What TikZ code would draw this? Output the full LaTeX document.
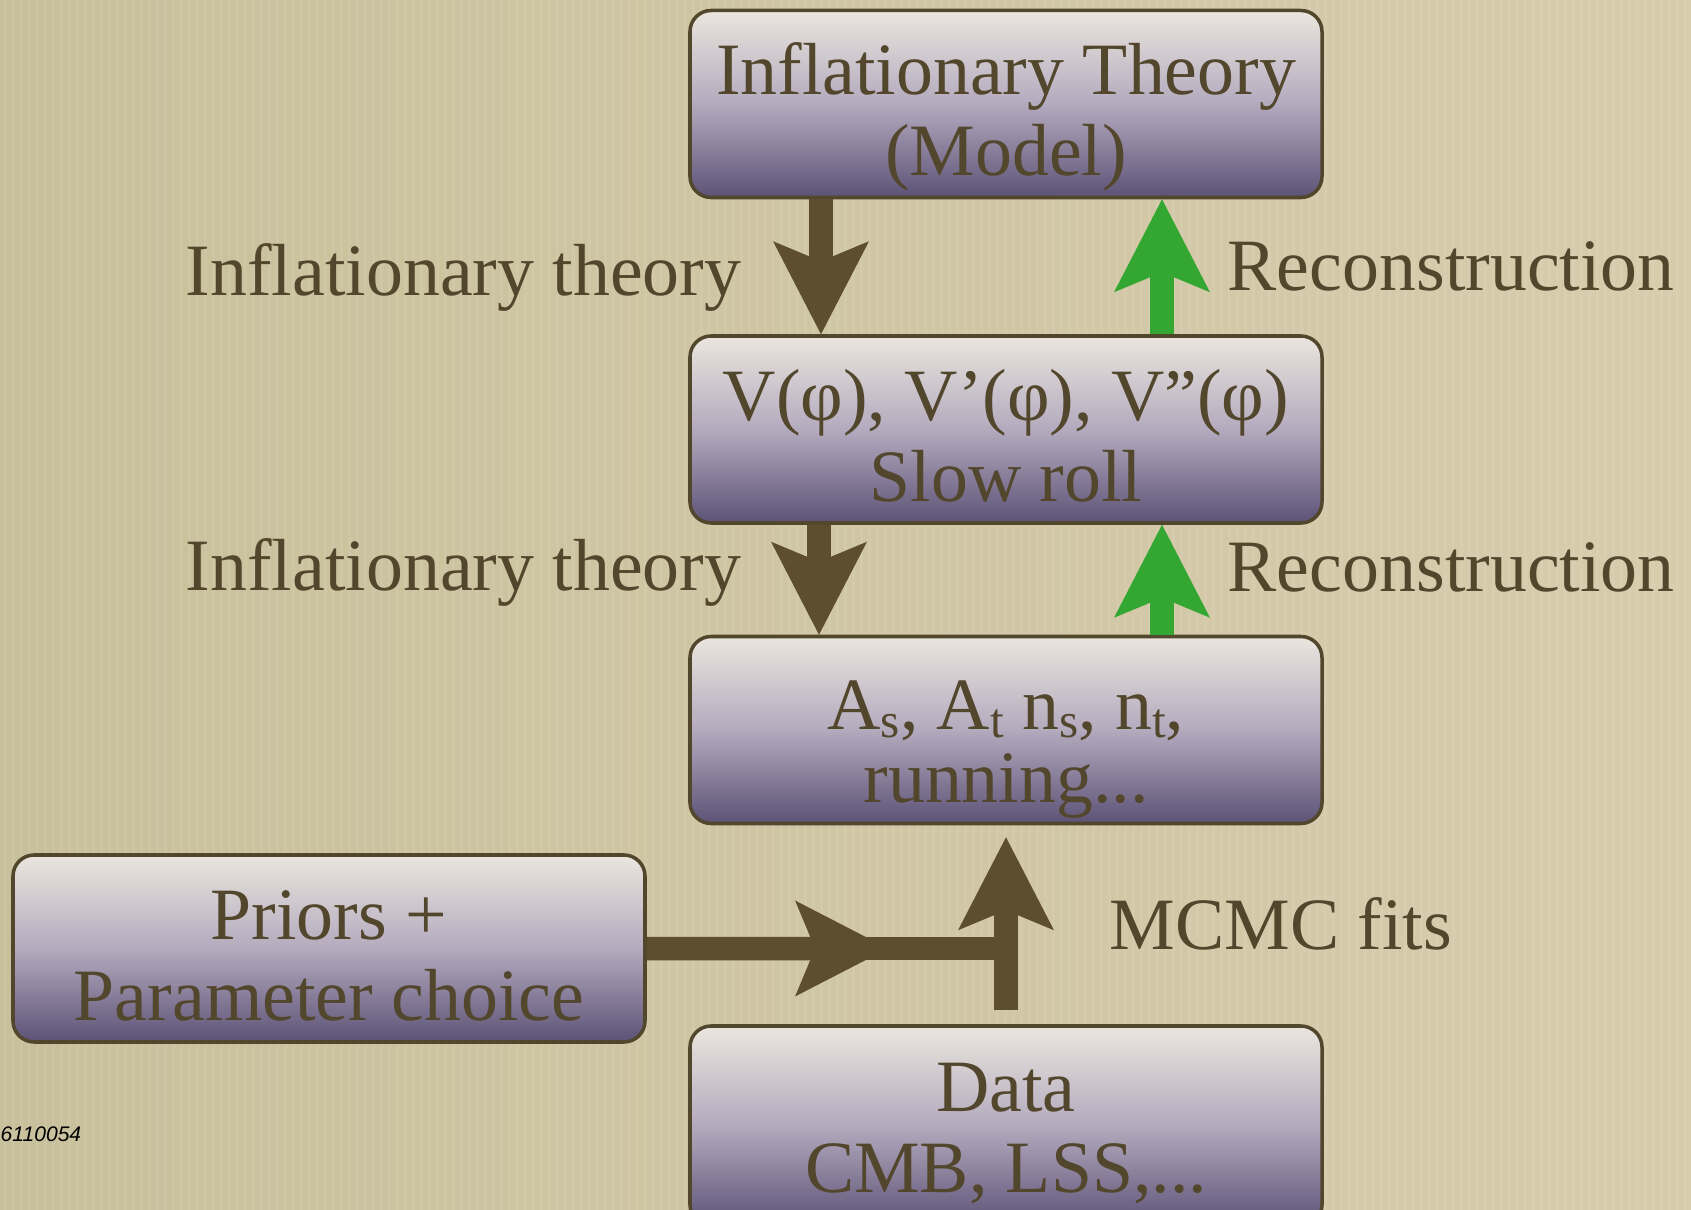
\documentclass[tikz,border=0pt]{standalone}
\usepackage{fontspec}
\setmainfont{Liberation Serif}
\setsansfont{Liberation Sans}
\usepackage{tikz}
\usetikzlibrary{arrows.meta, calc}
\definecolor{inkBrown}{RGB}{82,70,44}
\definecolor{arrowBrown}{RGB}{92,78,46}
\definecolor{reconGreen}{RGB}{52,166,50}
\definecolor{boxTop}{RGB}{234,230,222}
\definecolor{boxMid}{RGB}{180,170,190}
\definecolor{boxBottom}{RGB}{92,82,118}
\definecolor{paperLeft}{RGB}{200,192,155}
\definecolor{paperRight}{RGB}{215,204,172}
\newcommand{\boxstrut}[1][18pt]{\rule{0pt}{#1}}
\newcommand{\lowidx}[1]{\raisebox{-0.12em}{\fontsize{14}{14}\selectfont #1}}

\begin{document}
\begin{tikzpicture}[
    stagebox/.style={draw=inkBrown, line width=1pt, top color=boxTop, bottom color=boxBottom, middle color=boxMid, rounded corners=6pt, minimum width=6.32cm, minimum height=1.87cm, inner ysep=0pt, align=center, text=inkBrown, font=\fontsize{21}{23}\selectfont},
    sidelabel/.style={text=inkBrown, inner sep=0pt, font=\fontsize{21}{23}\selectfont},
    flow/.style={line width=0.235cm, draw=arrowBrown, -{Stealth[length=0.93cm, width=0.96cm, inset=0.2cm, line width=0pt]}},
    recon/.style={flow, draw=reconGreen}
]
    \useasboundingbox (0,0) rectangle (16.91,-12.10);
    \clip (0,0) rectangle (16.91,-12.10);
    \fill[left color=paperLeft, right color=paperRight] (0,0) rectangle (16.91,-12.10);
    \foreach \x in {0.05,0.13,...,16.9}
        \draw[white, opacity=0.07, line width=0.03cm] (\x,0) -- (\x,-12.10);

    \node[stagebox] (theory) at (10.06,-1.04) {\boxstrut[22pt]Inflationary Theory\\(Model)};
    \node[stagebox] (slowroll) at (10.06,-4.295) {\boxstrut V(φ), V’(φ), V”(φ)\\Slow roll};
    \node[stagebox] (observables) at (10.06,-7.30) {\boxstrut[25pt]A\lowidx{s}, A\lowidx{t} n\lowidx{s}, n\lowidx{t},\\[-2pt]running...};
    \node[stagebox] (priors) at (3.29,-9.485) {\boxstrut Priors +\\Parameter choice};
    \node[stagebox, minimum height=2cm] (data) at (10.06,-11.26) {\boxstrut Data\\CMB, LSS,...};

    \draw[flow] ([xshift=-1.85cm]theory.south) -- ([xshift=-1.85cm]slowroll.north);
    \draw[recon] ([xshift=1.56cm]slowroll.north) -- ([xshift=1.56cm]theory.south);
    \draw[flow] ([xshift=-1.87cm]slowroll.south) -- ([xshift=-1.87cm]observables.north);
    \draw[recon] ([xshift=1.56cm]observables.north) -- ([xshift=1.56cm]slowroll.south);

    \coordinate (merge) at ([xshift=0.12cm]priors.east -| data.north);
    \draw[flow, -] (priors.east) -- (merge);
    \draw[flow] (priors.east) -- ($(priors.east)!0.65!(merge)$);
    \draw[flow, shorten <=0.14cm, shorten >=0.12cm] (data.north) -- (observables.south);

    \node[sidelabel, anchor=base east] (theoryA) at (7.42,-2.96) {Inflationary theory};
    \node[sidelabel, anchor=base east] (theoryB) at (7.42,-5.91) {Inflationary theory};
    \node[sidelabel, anchor=base west] (reconA) at (12.27,-2.91) {Reconstruction};
    \node[sidelabel, anchor=base west] (reconB) at (12.27,-5.92) {Reconstruction};
    \node[sidelabel, anchor=base west] (mcmc) at (11.09,-9.49) {MCMC fits};
    \node[inner sep=0pt, anchor=base west, text=black, font=\sffamily\itshape\fontsize{6}{7}\selectfont] (tag) at (0,-11.41) {6110054};
\end{tikzpicture}
\end{document}
